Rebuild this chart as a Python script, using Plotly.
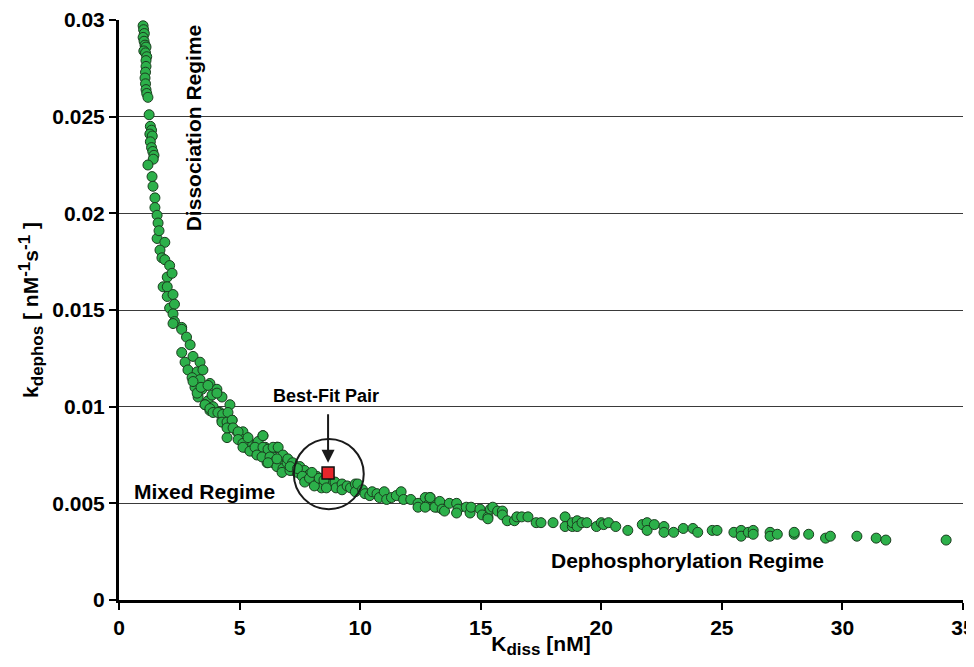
import plotly.graph_objects as go

# Scatter data (K_diss [nM], k_dephos [nM^-1 s^-1])
kdiss = [
    1.00, 1.02, 1.05, 1.00, 1.04, 1.08, 1.12, 1.03, 1.10, 1.15, 1.12,
    1.12, 1.10, 1.08, 1.10, 1.12, 1.15, 1.20, 1.25,
    1.30, 1.35, 1.28, 1.38, 1.30, 1.35, 1.40, 1.45, 1.42,
    1.20, 1.37, 1.41, 1.49, 1.49, 1.58, 1.62, 1.58, 1.66, 1.90, 1.70, 1.78, 1.90,
    2.10, 2.00, 2.20, 1.83, 2.00, 2.00, 2.24, 2.10, 2.30, 2.24, 2.30, 2.60,
    2.24, 2.60, 2.80, 2.95, 2.60, 2.74, 3.07, 3.36, 2.86, 3.24, 3.48, 3.03, 3.36,
    3.15, 3.77, 3.44, 4.06, 3.28, 3.69, 4.27, 3.57, 3.90, 4.60, 3.77, 4.19, 4.48,
    4.27, 4.69, 4.52, 4.48, 4.90, 5.14, 5.10, 5.23, 5.35, 5.72, 5.97, 5.56, 5.85,
    6.18, 6.06, 6.55, 6.39, 6.14, 6.47, 6.80, 6.76, 7.00, 7.22,
    3.07, 3.24, 3.40, 3.69, 3.86, 4.06, 3.57, 3.77, 3.90, 4.10, 4.30, 4.52,
    4.27, 4.48, 4.69, 4.48, 4.73, 4.94, 4.94, 5.14, 5.35, 5.77, 5.97, 5.14, 5.43,
    5.64, 5.97, 6.18, 6.55, 5.72, 5.93, 6.26, 6.39, 6.68, 6.18, 6.55, 6.80, 6.97,
    6.76, 7.09,
    6.39, 6.60, 6.80, 6.55, 7.00, 7.20, 7.10, 7.50, 7.60, 7.40, 7.70, 7.90, 7.80,
    8.05, 8.20, 8.30, 8.40, 8.70, 8.96, 9.00, 9.25, 9.25, 9.46, 9.60, 9.80, 9.80,
    9.90, 10.10, 10.20, 10.40, 10.50, 10.70, 10.80, 11.00, 11.10, 11.30, 11.50,
    11.70, 11.80, 12.10, 12.40, 12.40, 12.70, 12.80, 12.90, 13.10, 13.20,
    7.40, 7.60, 7.70, 7.90, 8.10, 8.00, 8.30, 8.50, 8.60,
    12.70, 12.90, 13.10, 13.30, 13.40, 13.50, 13.70, 14.00, 14.06, 14.00, 14.40,
    14.56, 14.60, 14.97, 15.06, 15.30, 15.40, 15.50, 15.30, 15.70, 15.90, 15.90,
    16.10, 16.40, 16.50, 16.70, 16.96, 17.30, 17.50, 18.00, 18.50, 18.50, 18.80,
    18.80, 19.00, 19.00, 19.20, 19.40, 19.80, 20.00, 20.10, 20.30, 20.60, 21.10,
    21.70, 21.90, 21.90, 22.20, 22.60, 22.60, 23.00, 23.40, 23.80, 24.00, 24.60,
    24.80, 25.50, 25.80, 25.80, 26.10, 26.30, 26.30, 27.00, 27.00, 27.30, 28.00,
    28.00, 28.60, 29.30, 29.50, 30.60, 31.40, 31.80, 34.30,
]
kdephos = [
    0.0297, 0.0295, 0.0293, 0.0291, 0.0289, 0.0287, 0.0286, 0.0284, 0.0283, 0.0281, 0.0279,
    0.0276, 0.0273, 0.0270, 0.0267, 0.0264, 0.0262, 0.0260, 0.0251,
    0.0245, 0.0243, 0.0241, 0.0240, 0.0237, 0.0234, 0.0232, 0.0230, 0.0228,
    0.0225, 0.0219, 0.0214, 0.0208, 0.0203, 0.0199, 0.0195, 0.0187, 0.0191, 0.0185, 0.0181, 0.0177, 0.0176,
    0.0173, 0.0167, 0.0169, 0.0162, 0.0162, 0.0157, 0.0158, 0.0151, 0.0153, 0.0148, 0.0144, 0.0141,
    0.0143, 0.0140, 0.0136, 0.0132, 0.0128, 0.0123, 0.0126, 0.0123, 0.0119, 0.0118, 0.0119, 0.0115, 0.0114,
    0.0110, 0.0112, 0.0109, 0.0109, 0.0105, 0.0103, 0.0105, 0.0101, 0.0100, 0.0101, 0.0098, 0.0097, 0.0095,
    0.0093, 0.0093, 0.0089, 0.0084, 0.0087, 0.0087, 0.0083, 0.0079, 0.0082, 0.0081, 0.0085, 0.0077, 0.0076,
    0.0075, 0.0079, 0.0079, 0.0074, 0.0071, 0.0071, 0.0074, 0.0069, 0.0071, 0.0067,
    0.0113, 0.0107, 0.0110, 0.0111, 0.0106, 0.0107, 0.0101, 0.0099, 0.0097, 0.0097, 0.0096, 0.0097,
    0.0092, 0.0092, 0.0093, 0.0089, 0.0089, 0.0087, 0.0083, 0.0081, 0.0084, 0.0082, 0.0085, 0.0079, 0.0077,
    0.0079, 0.0079, 0.0078, 0.0079, 0.0075, 0.0074, 0.0074, 0.0071, 0.0072, 0.0071, 0.0069, 0.0068, 0.0071,
    0.0066, 0.0067,
    0.0079, 0.0079, 0.0075, 0.0073, 0.0073, 0.0071, 0.0069, 0.0069, 0.0066, 0.0066, 0.0067, 0.0065, 0.0062,
    0.0062, 0.0064, 0.0060, 0.0058, 0.0060, 0.0061, 0.0058, 0.0060, 0.0057, 0.0059, 0.0058, 0.0060, 0.0056,
    0.0060, 0.0057, 0.0055, 0.0054, 0.0056, 0.0055, 0.0053, 0.0056, 0.0052, 0.0053, 0.0054,
    0.0056, 0.0052, 0.0052, 0.0050, 0.0048, 0.0053, 0.0049, 0.0053, 0.0049, 0.0048,
    0.0068, 0.0064, 0.0061, 0.0063, 0.0059, 0.0066, 0.0063, 0.0062, 0.0058,
    0.0048, 0.0053, 0.0048, 0.0051, 0.0047, 0.0046, 0.0050, 0.0050, 0.0047, 0.0045, 0.0048,
    0.0045, 0.0048, 0.0047, 0.0044, 0.0043, 0.0047, 0.0048, 0.0042, 0.0046, 0.0046, 0.0044,
    0.0041, 0.0041, 0.0043, 0.0043, 0.0043, 0.0040, 0.0040, 0.0040, 0.0043, 0.0038, 0.0038,
    0.0040, 0.0041, 0.0038, 0.0040, 0.0040, 0.0038, 0.0040, 0.0039, 0.0040, 0.0038, 0.0036,
    0.0039, 0.0040, 0.0036, 0.0039, 0.0038, 0.0035, 0.0035, 0.0037, 0.0037, 0.0035, 0.0036,
    0.0036, 0.0035, 0.0036, 0.0033, 0.0035, 0.0036, 0.0034, 0.0035, 0.0033, 0.0034, 0.0034,
    0.0035, 0.0034, 0.0032, 0.0033, 0.0033, 0.0032, 0.0031, 0.0031,
]

best_fit_x = [8.67]
best_fit_y = [0.00657]

x_ticks = [0, 5, 10, 15, 20, 25, 30, 35]
y_ticks = [0, 0.005, 0.01, 0.015, 0.02, 0.025, 0.03]
y_tick_text = ["0", "0.005", "0.01", "0.015", "0.02", "0.025", "0.03"]

FONT = "Liberation Sans, Arial, sans-serif"

fig = go.Figure()
fig.add_trace(go.Scatter(
    x=kdiss, y=kdephos, mode="markers",
    marker=dict(size=10, color="#2cb04a", line=dict(color="#1b3d1f", width=1)),
    showlegend=False, cliponaxis=False,
))
fig.add_trace(go.Scatter(
    x=best_fit_x, y=best_fit_y, mode="markers",
    marker=dict(size=12, symbol="square", color="#e8262b", line=dict(color="#111111", width=1.5)),
    showlegend=False,
))

# circle around best-fit pair
fig.add_shape(type="circle", xref="x", yref="y",
              x0=7.25, x1=10.15, y0=0.0047, y1=0.00833,
              line=dict(color="#1a1a1a", width=2))

big = dict(family=FONT, size=21, color="black")
mid = dict(family=FONT, size=18, color="black")
fig.add_annotation(x=8.67, y=0.0071, ax=0, ay=-50, axref="pixel", ayref="pixel",
                   text="", showarrow=True, arrowhead=2, arrowsize=1.3,
                   arrowwidth=2, arrowcolor="#1a1a1a")
fig.add_annotation(x=8.58, y=0.01055, text="<b>Best-Fit Pair</b>", showarrow=False, font=mid)
fig.add_annotation(x=3.53, y=0.00559, text="<b>Mixed Regime</b>", showarrow=False, font=big)
fig.add_annotation(x=23.56, y=0.00202, text="<b>Dephosphorylation Regime</b>", showarrow=False, font=big)
fig.add_annotation(x=3.07, y=0.0244, text="<b>Dissociation Regime</b>", showarrow=False,
                   textangle=-90, font=big)

# page body has an 8px margin, so the figure is sized/offset to fit the window
fig.update_layout(
    width=966, height=651,
    margin=dict(l=111, r=11, t=12, b=59),
    paper_bgcolor="white", plot_bgcolor="white",
    font=dict(family=FONT, size=17, color="black"),
)
SUBSTYLE = 'style="font-size:17px"'
fig.update_xaxes(
    range=[0, 35], tickvals=x_ticks, ticktext=[f"<b>{v}</b>" for v in x_ticks],
    showline=True, linecolor="black", linewidth=3, ticks="outside", ticklen=7,
    tickwidth=2, tickcolor="black", showgrid=False, zeroline=False, automargin=False,
    ticklabeloverflow="allow",
    tickfont=dict(family=FONT, size=21, color="black"),
    title=dict(text=f"<b>K<sub><span {SUBSTYLE}>diss</span></sub> [nM]</b>",
               font=dict(family=FONT, size=21), standoff=4),
)
fig.update_yaxes(
    range=[0, 0.03], tickvals=y_ticks, ticktext=[f"<b>{t}</b>" for t in y_tick_text],
    showline=True, linecolor="black", linewidth=3, ticks="outside", ticklen=7,
    tickwidth=2, tickcolor="black", showgrid=True, gridcolor="#3a3a3a", gridwidth=1,
    zeroline=False, automargin=False, tickfont=dict(family=FONT, size=21, color="black"),
    title=dict(text=(f"<b>k<sub><span {SUBSTYLE}>dephos</span></sub> [ nM"
                     f"<sup><span {SUBSTYLE}>-1</span></sup>s<sup><span {SUBSTYLE}>-1</span></sup> ]</b>"),
               font=dict(family=FONT, size=21), standoff=8),
)

fig.write_html("out.html")
